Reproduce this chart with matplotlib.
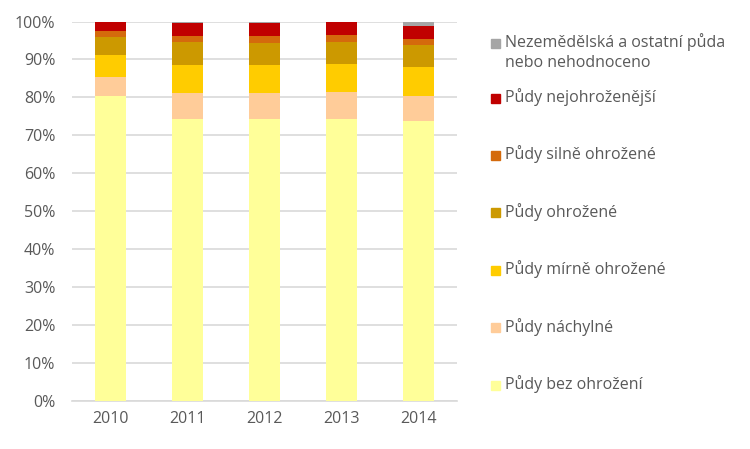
import numpy as np
import matplotlib.pyplot as plt
from matplotlib.patches import Rectangle

years = ['2010', '2011', '2012', '2013', '2014']

# podíly kategorií v %, od spodu nahoru
bez_ohrozeni = [80.4, 74.4, 74.2, 74.4, 73.7]
nachylne = [5.1, 6.9, 7.1, 7.1, 6.7]
mirne = [5.7, 7.3, 7.3, 7.4, 7.5]
ohrozene = [4.6, 5.9, 5.8, 5.8, 5.8]
silne = [1.6, 1.8, 1.8, 1.8, 1.8]
nejohrozenejsi = [2.6, 3.4, 3.4, 3.5, 3.2]
nezemedelska = [0.0, 0.3, 0.4, 0.0, 1.3]

labels = ['Půdy bez ohrožení', 'Půdy náchylné', 'Půdy mírně ohrožené',
          'Půdy ohrožené', 'Půdy silně ohrožené', 'Půdy nejohroženější',
          'Nezemědělská a ostatní půda\nnebo nehodnoceno']
colors = ['#FFFF99', '#FFCC99', '#FFCC00', '#CC9900', '#D46A0C', '#C00000', '#A5A5A5']
series = [bez_ohrozeni, nachylne, mirne, ohrozene, silne, nejohrozenejsi, nezemedelska]

plt.rcParams['font.family'] = ['Open Sans', 'DejaVu Sans']

fig = plt.figure(figsize=(7.5, 4.49), dpi=100)
ax = fig.add_axes([0.096, 0.107, 0.513, 0.845])

x = np.arange(len(years))
bottom = np.zeros(len(years))
for vals, col in zip(series, colors):
    ax.bar(x, vals, 0.4, bottom=bottom, color=col, zorder=3)
    bottom += np.array(vals)

ax.set_xlim(-0.5, len(years) - 0.5)
ax.set_ylim(0, 100)
ax.set_yticks(np.arange(0, 101, 10))
ax.set_yticklabels([f'{v}%' for v in range(0, 101, 10)])
ax.set_xticks(x)
ax.set_xticklabels(years)
ax.yaxis.grid(True, color='#D9D9D9', linewidth=1.2, zorder=0)
for s in ['top', 'right', 'left']:
    ax.spines[s].set_visible(False)
ax.spines['bottom'].set_color('#D9D9D9')
ax.spines['bottom'].set_linewidth(1.2)
ax.tick_params(axis='both', length=0, labelsize=11.5, labelcolor='#595959')
ax.tick_params(axis='y', pad=12)
ax.tick_params(axis='x', pad=7)

# legenda vpravo (pořadí shora dolů)
W, H = 750, 449
ypos = [43] + [98 + i * 57.4 for i in range(6)]
for yp, lab, col in zip(ypos, labels[::-1], colors[::-1]):
    fig.patches.append(Rectangle((491 / W, 1 - (yp + 4.5) / H), 9 / W, 9 / H,
                                 transform=fig.transFigure, color=col))
    fig.text(505 / W, 1 - (yp - 10) / H, lab, fontsize=11.5, color='#595959',
             va='top', ha='left', linespacing=1.3)

fig.savefig('out.png', dpi=100)
